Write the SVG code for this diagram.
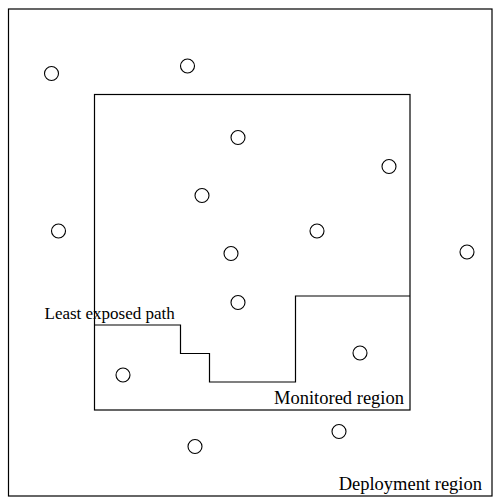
<svg xmlns="http://www.w3.org/2000/svg" width="497" height="501" viewBox="0 0 497 501">
<style>
.r{fill:none;stroke:#000;stroke-width:1.2}
.s{fill:#fff;stroke:#000;stroke-width:1.1}
.t{font-family:"Liberation Serif","Times New Roman",serif;font-size:17px;fill:#000}
.b{font-size:18.5px}
</style>
<rect width="497" height="501" fill="#fff"/>
<g id="deployment-region">
<rect class="r" x="8.5" y="9" width="483.5" height="487"/>
<text class="t b" x="482" y="490" text-anchor="end">Deployment region</text>
</g>
<g id="monitored-region">
<rect class="r" x="94.5" y="94.5" width="315.5" height="315.5"/>
<text class="t b" x="404" y="404" text-anchor="end">Monitored region</text>
</g>
<g id="connectors">
<polyline id="least-exposed-path" class="r" points="94.5,325 180.5,325 180.5,353.5 209.5,353.5 209.5,382 295.5,382 295.5,296 410,296"/>
</g>
<g id="path-label">
<text class="t" x="44.5" y="318.5">Least exposed path</text>
</g>
<g id="sensors">
<circle id="s1" class="s" cx="51.5" cy="73.5" r="7"/>
<circle id="s2" class="s" cx="187.5" cy="66" r="7"/>
<circle id="s3" class="s" cx="238" cy="137.5" r="7"/>
<circle id="s4" class="s" cx="389" cy="166.5" r="7"/>
<circle id="s5" class="s" cx="202" cy="195.5" r="7"/>
<circle id="s6" class="s" cx="58.5" cy="231" r="7"/>
<circle id="s7" class="s" cx="317" cy="231" r="7"/>
<circle id="s8" class="s" cx="467" cy="252" r="7"/>
<circle id="s9" class="s" cx="231" cy="253.5" r="7"/>
<circle id="s10" class="s" cx="238" cy="302.5" r="7"/>
<circle id="s11" class="s" cx="360" cy="353" r="7"/>
<circle id="s12" class="s" cx="123" cy="375" r="7"/>
<circle id="s13" class="s" cx="339" cy="431.5" r="7"/>
<circle id="s14" class="s" cx="195" cy="446.5" r="7"/>
</g>
</svg>
